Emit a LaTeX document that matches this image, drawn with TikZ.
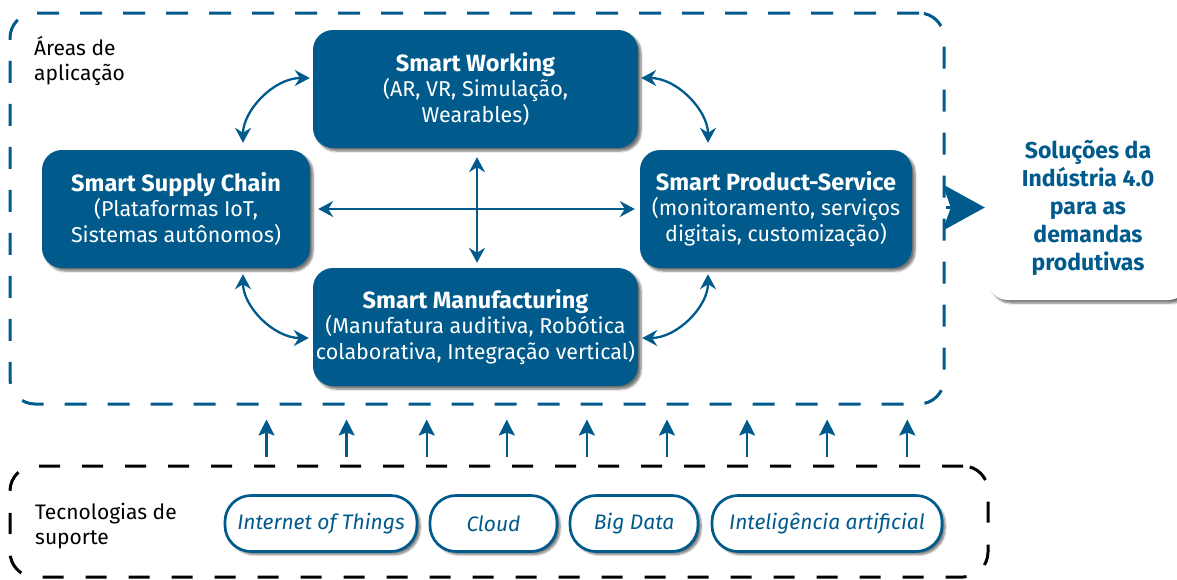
\documentclass[tikz,border=0pt]{standalone}
\usepackage{fontspec}
\setmainfont{Fira Sans}
\usetikzlibrary{arrows.meta,shadows.blur,calc}
\definecolor{ibm}{RGB}{0,91,140}
\begin{document}
\begin{tikzpicture}[x=1pt,y=1pt,
  bluebox/.style={fill=ibm, rounded corners=20pt, text=white, align=center, inner sep=0pt,
    font=\fontsize{21.5}{25.5}\selectfont,
    blur shadow={shadow xshift=3pt, shadow yshift=-3pt, shadow blur steps=6, shadow opacity=55}},
  pill/.style={draw=ibm, line width=2.7pt, fill=white, rounded corners=26pt, text=ibm,
    minimum height=56pt, inner sep=0pt, font=\fontsize{21}{24}\selectfont\itshape,
    blur shadow={shadow xshift=3pt, shadow yshift=-3pt, shadow blur steps=6, shadow opacity=55}},
  areabox/.style={draw=ibm, line width=3pt, rounded corners=25pt, dash pattern=on 22pt off 21pt, inner sep=0pt},
  techbox/.style={draw=black, line width=3pt, rounded corners=25pt, dash pattern=on 21pt off 22pt, inner sep=0pt},
  lbl/.style={anchor=west, align=left, inner sep=0pt, font=\fontsize{21}{24.5}\selectfont},
  dbl/.style={draw=ibm, line width=2.3pt, {Stealth[length=15pt,width=16pt,inset=5pt]}-{Stealth[length=15pt,width=16pt,inset=5pt]}},
  uparrow/.style={draw=ibm, line width=2.3pt, -{Stealth[length=16pt,width=16pt,inset=3pt]}},
  bigarrow/.style={draw=ibm, line width=3pt, -{Stealth[length=42pt,width=46pt,inset=8pt]}}
]
\useasboundingbox (0,0) rectangle (1177,-579);

% dashed frames
\node[areabox, minimum width=934pt, minimum height=391pt] (areas) at (477,-208.5) {};
\node[techbox, minimum width=978pt, minimum height=111pt] (tech) at (499,-521.5) {};

% labels
\node[lbl] (arealbl) at (34,-61) {Áreas de\\aplicação};
\node[lbl] (techlbl) at (35,-526) {Tecnologias de\\suporte};

% main boxes
\node[bluebox, minimum width=325pt, minimum height=118pt] (working) at (475.5,-89)
  {{\fontsize{23.5}{28}\selectfont\bfseries Smart Working}\\(AR, VR, Simulação,\\Wearables)};
\node[bluebox, minimum width=268pt, minimum height=118pt] (supply) at (176,-209)
  {{\fontsize{23.5}{28}\selectfont\bfseries Smart Supply Chain}\\(Plataformas IoT,\\Sistemas autônomos)};
\node[bluebox, minimum width=272pt, minimum height=118pt] (product) at (776,-209)
  {{\fontsize{23.5}{28}\selectfont\bfseries Smart Product-Service}\\(monitoramento, serviços\\digitais, customização)};
\node[bluebox, minimum width=325pt, minimum height=118pt] (manuf) at (475.5,-327)
  {{\fontsize{23.5}{28}\selectfont\bfseries Smart Manufacturing}\\(Manufatura auditiva, Robótica\\colaborativa, Integração vertical)};

% result box
\node[fill=white, rounded corners=20pt, minimum width=200pt, minimum height=185pt, inner sep=0pt,
  text=ibm, align=center, font=\fontsize{23}{28}\selectfont\bfseries,
  blur shadow={shadow xshift=3pt, shadow yshift=-3pt, shadow blur steps=6, shadow opacity=55}]
  (result) at (1088,-207.5) {Soluções da\\Indústria 4.0\\para as\\demandas\\produtivas};

% pills
\node[pill, minimum width=192pt] (iot) at (321,-523.5) {Internet of Things};
\node[pill, minimum width=127pt] (cloud) at (493.5,-523.5) {Cloud};
\node[pill, minimum width=128pt] (bigdata) at (634,-523.5) {Big Data};
\node[pill, minimum width=230pt] (ia) at (827,-523.5) {Inteligência artificial};

% curved connectors
\draw[dbl, shorten <=7pt, shorten >=3pt] ([xshift=67pt]supply.north) to[out=90,in=180] ([yshift=11pt]working.west);
\draw[dbl, shorten <=3pt, shorten >=7pt] ([yshift=11pt]working.east) to[out=0,in=90] ([xshift=-68pt]product.north);
\draw[dbl, shorten <=6pt, shorten >=4pt] ([xshift=67pt]supply.south) to[out=-90,in=180] ([yshift=-11pt]manuf.west);
\draw[dbl, shorten <=6pt, shorten >=4pt] ([xshift=-68pt]product.south) to[out=-90,in=0] ([yshift=-11pt]manuf.east);

% straight connectors
\draw[dbl, shorten <=8pt, shorten >=5pt] (supply.east) -- (supply.east -| product.west);
\draw[dbl, shorten <=9pt, shorten >=5pt] ([xshift=1.5pt]working.south) -- ([xshift=1.5pt]manuf.north);

% support arrows
\foreach \i [evaluate=\i as \xx using 258+80.1*\i] in {0,...,8}
  \draw[uparrow] ([xshift=\xx pt, yshift=8pt]tech.north west) -- ([xshift=\xx pt, yshift=-14pt]areas.south west);

% big arrow
\draw[bigarrow] (areas.east |- result.west) -- ([xshift=-3pt]result.west);
\end{tikzpicture}
\end{document}
